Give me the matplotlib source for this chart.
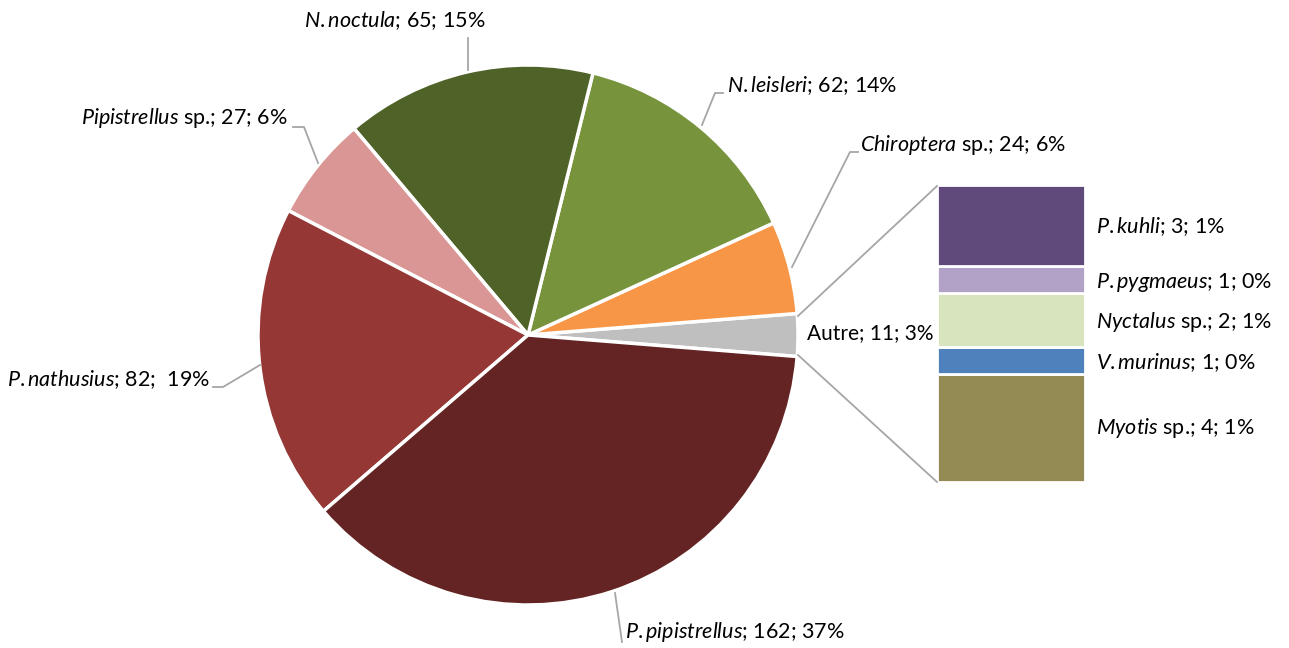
import matplotlib.pyplot as plt

plt.rcParams['font.family'] = 'Lato'
plt.rcParams['mathtext.fontset'] = 'custom'
plt.rcParams['mathtext.it'] = 'Lato:italic'
plt.rcParams['mathtext.rm'] = 'Lato'

# main pie (counter-clockwise from the "Autre" slice)
pie_names = ['Autre', 'Chiroptera', 'N.leisleri', 'N.noctula', 'Pipistrellus',
             'P.nathusius', 'P.pipistrellus']
pie_values = [11, 24, 62, 65, 27, 82, 162]
pie_pcts = [3, 6, 14, 15, 6, 19, 37]
pie_colors = ['#BFBFBF', '#F79646', '#77933C', '#4F6228', '#D99694',
              '#953735', '#632423']

# secondary bar (bottom to top)
bar_names = ['Myotis', 'V.murinus', 'Nyctalus', 'P.pygmaeus', 'P.kuhli']
bar_values = [4, 1, 2, 1, 3]
bar_pcts = [1, 0, 1, 0, 1]
bar_colors = ['#948A54', '#4F81BD', '#D7E4BD', '#B3A2C7', '#604A7B']

W, H = 1289, 648


def py(y):
    # pixel row -> data y
    return H - y


fig = plt.figure(figsize=(W / 100, H / 100), dpi=100)
ax = fig.add_axes([0, 0, 1, 1])

total = sum(pie_values)
start = -pie_values[0] / total * 360 / 2
cx, cy, r = 528, py(335), 270
ax.pie(pie_values, colors=pie_colors, startangle=start, counterclock=True,
       center=(cx, cy), radius=r,
       wedgeprops=dict(edgecolor='white', linewidth=2.5))

# bar of "Autre"
bx, bw = 1011, 148
b_top, b_bot = py(185), py(482)
unit = (b_top - b_bot) / sum(bar_values)
bottom = b_bot
for v, c in zip(bar_values, bar_colors):
    ax.bar(bx, v * unit, bottom=bottom, width=bw, color=c,
           edgecolor='white', linewidth=2)
    bottom += v * unit

line_c = '#A6A6A6'
ax.plot([798, 937], [py(316), py(186)], color=line_c, lw=1.3)
ax.plot([798, 937], [py(355), py(482)], color=line_c, lw=1.3)

fs = 15.5


def label(x, y, name, rest, ha='left', size=fs):
    ax.text(x, py(y), name + rest, fontsize=size, ha=ha, va='center',
            color='black')


# pie labels
label(395, 21, r'$\mathit{N.noctula}$', f'; {pie_values[3]}; {pie_pcts[3]}%', ha='center')
ax.plot([468, 468], [py(38), py(70)], color=line_c, lw=1.3)

label(727, 86, r'$\mathit{N.leisleri}$', f'; {pie_values[2]}; {pie_pcts[2]}%')
ax.plot([723, 715, 702], [py(93), py(93), py(125)], color=line_c, lw=1.3)

label(860, 145, r'$\mathit{Chiroptera}$', f' sp.; {pie_values[1]}; {pie_pcts[1]}%')
ax.plot([858, 850, 792], [py(152), py(152), py(267)], color=line_c, lw=1.3)

label(288, 118, r'$\mathit{Pipistrellus}$', f' sp.; {pie_values[4]}; {pie_pcts[4]}%', ha='right')
ax.plot([293, 304, 318], [py(127), py(127), py(163)], color=line_c, lw=1.3)

label(210, 380, r'$\mathit{P.nathusius}$', f'; {pie_values[5]};  {pie_pcts[5]}%', ha='right')
ax.plot([213, 223, 260], [py(387), py(387), py(365)], color=line_c, lw=1.3)

label(625, 632, r'$\mathit{P.pipistrellus}$', f'; {pie_values[6]}; {pie_pcts[6]}%')
ax.plot([615, 622], [py(593), py(642)], color=line_c, lw=1.3)

label(807, 333, 'Autre', f'; {pie_values[0]}; {pie_pcts[0]}%', size=15)

# bar labels
bar_y = {'P.kuhli': 227, 'P.pygmaeus': 283, 'Nyctalus': 322,
         'V.murinus': 363, 'Myotis': 428}
for n, v, p in zip(bar_names, bar_values, bar_pcts):
    suffix = ' sp.' if n in ('Nyctalus', 'Myotis') else ''
    label(1096, bar_y[n], r'$\mathit{' + n + '}$', f'{suffix}; {v}; {p}%')

ax.set_xlim(0, W)
ax.set_ylim(0, H)
ax.set_aspect('equal')
ax.axis('off')

fig.savefig('out.png', dpi=100)
